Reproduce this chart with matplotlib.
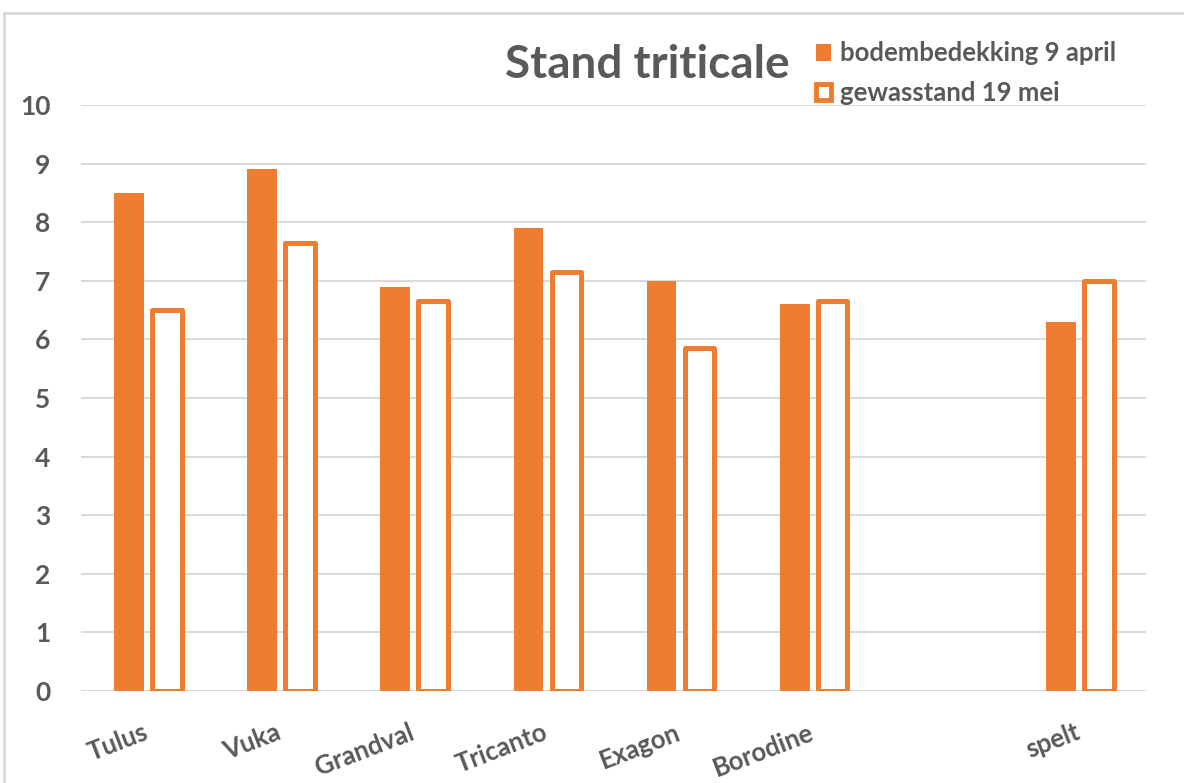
import numpy as np
import matplotlib.pyplot as plt
from matplotlib.patches import Rectangle
from matplotlib.lines import Line2D
from matplotlib.transforms import ScaledTranslation

plt.rcParams['font.family'] = ['Lato', 'DejaVu Sans']
plt.rcParams['font.weight'] = 'bold'

# Rassen (lege plek tussen Borodine en spelt)
rassen = ['Tulus', 'Vuka', 'Grandval', 'Tricanto', 'Exagon', 'Borodine', '', 'spelt']
bodembedekking = [8.5, 8.9, 6.9, 7.9, 7.0, 6.6, np.nan, 6.3]
gewasstand = [6.5, 7.65, 6.65, 7.15, 5.85, 6.65, np.nan, 7.0]

oranje = '#ED7D31'
grijs = '#595959'
raster = '#D9D9D9'

fig = plt.figure(figsize=(11.84, 7.83), dpi=100)
ax = fig.add_axes([0.0684, 0.1176, 0.8995, 0.7484])

x = np.arange(len(rassen))
w = 0.223
ax.bar(x - 0.139, bodembedekking, w, color=oranje, zorder=3)
ax.bar(x + 0.146, gewasstand, w, facecolor='white', edgecolor=oranje,
       linewidth=3.6, joinstyle='round', zorder=3)

ax.set_xlim(-0.5, len(rassen) - 0.5)
ax.set_ylim(0, 10)
ax.set_yticks(range(0, 11))
ax.yaxis.grid(True, color=raster, linewidth=1.4, zorder=0)
ax.set_axisbelow(True)
for s in ax.spines.values():
    s.set_visible(False)

ax.tick_params(axis='both', length=0, colors=grijs)
ax.tick_params(axis='y', labelsize=19, pad=22)
ax.set_xticks(x)
ax.set_xticklabels(rassen, rotation=21, ha='right', va='top',
                   rotation_mode='anchor', fontsize=18.5)
ax.tick_params(axis='x', pad=21)
# labels iets naar links schuiven
shift = ScaledTranslation(-5 / 100, 0, fig.dpi_scale_trans)
for lbl in ax.get_xticklabels():
    lbl.set_transform(lbl.get_transform() + shift)

fig.text(0.6672, 0.9004, 'Stand triticale', fontsize=33, fontweight='bold',
         color=grijs, ha='right', va='baseline')

handles = [Rectangle((0, 0), 1, 1, facecolor=oranje, edgecolor=oranje, linewidth=0),
           Rectangle((0, 0), 1, 1, facecolor='white', edgecolor=oranje, linewidth=3.5)]
leg = fig.legend(handles, ['bodembedekking 9 april', 'gewasstand 19 mei'],
                 loc='upper left', bbox_to_anchor=(0.689, 0.947), frameon=False,
                 fontsize=18.5, handlelength=0.6, handleheight=0.6,
                 handletextpad=0.35, labelspacing=0.6, borderaxespad=0,
                 borderpad=0)
for t in leg.get_texts():
    t.set_color(grijs)

# Kader rond de grafiek (links en boven)
fig.add_artist(Line2D([0.0038, 0.0038], [0, 0.984], color=raster, linewidth=2))
fig.add_artist(Line2D([0.0038, 1], [0.984, 0.984], color=raster, linewidth=2))

fig.savefig('out.png', dpi=100)
